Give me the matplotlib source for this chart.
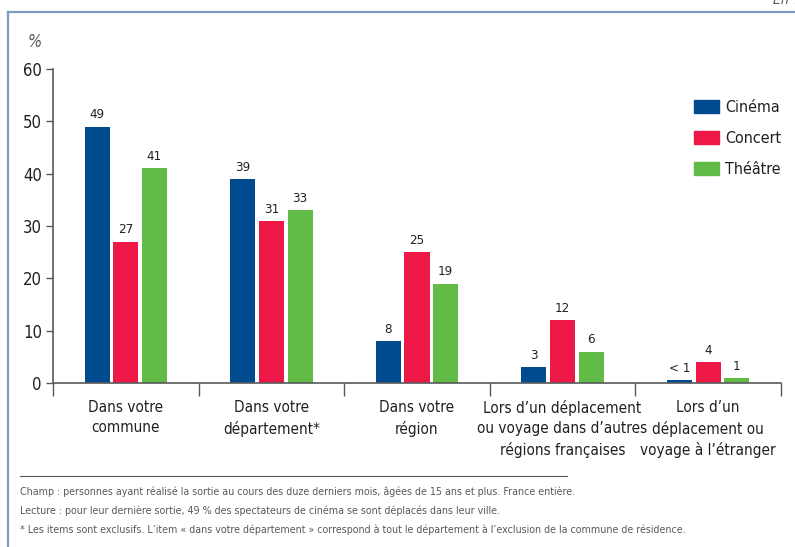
import numpy as np
import matplotlib
matplotlib.use('Agg')
import matplotlib.pyplot as plt
from matplotlib.lines import Line2D
from matplotlib.patches import Patch

plt.rcParams['font.family'] = ['DejaVu Sans']
plt.rcParams['font.stretch'] = 'condensed'

# Data
categories = ['Dans votre\ncommune', 'Dans votre\ndépartement*', 'Dans votre\nrégion',
              'Lors d\u2019un déplacement\nou voyage dans d\u2019autres\nrégions françaises',
              'Lors d\u2019un\ndéplacement ou\nvoyage à l\u2019étranger']
series = ['Cinéma', 'Concert', 'Théâtre']
cinema = [49, 39, 8, 3, 0.6]
concert = [27, 31, 25, 12, 4]
theatre = [41, 33, 19, 6, 1]
cinema_labels = ['49', '39', '8', '3', '< 1']
concert_labels = ['27', '31', '25', '12', '4']
theatre_labels = ['41', '33', '19', '6', '1']
yticks = [0, 10, 20, 30, 40, 50, 60]

colors = ['#004a8f', '#ee1846', '#62bb46']
dark = '#231f20'
grey = '#58595b'

W, H = 795, 547
fig = plt.figure(figsize=(W / 100, H / 100), dpi=100)
ax = fig.add_axes([53 / W, 1 - 383 / H, (781 - 53) / W, (383 - 69) / H])

x = np.arange(len(categories))
width = 0.172
step = 0.197
for k, (vals, labs) in enumerate([(cinema, cinema_labels), (concert, concert_labels),
                                   (theatre, theatre_labels)]):
    pos = x + (k - 1) * step
    ax.bar(pos, vals, width=width, color=colors[k], zorder=2)
    for p, v, t in zip(pos, vals, labs):
        ax.text(p, v + 1.0, t, ha='center', va='bottom', fontsize=9.5, color=dark)

ax.set_xlim(-0.5, len(categories) - 0.5)
ax.set_ylim(0, 60)
ax.set_yticks(yticks)
ax.tick_params(axis='y', length=5, width=1, color=grey, labelsize=12,
               labelcolor=dark, pad=3)

# boundaries as major ticks, labels on minor ticks
ax.set_xticks(np.arange(len(categories) + 1) - 0.5)
ax.set_xticklabels([])
ax.tick_params(axis='x', which='major', length=9, width=1, color=grey, direction='out')
ax.set_xticks(x, minor=True)
ax.set_xticklabels(categories, minor=True, fontsize=11, color=dark, linespacing=1.45)
ax.tick_params(axis='x', which='minor', length=0, pad=12)

for s in ['top', 'right']:
    ax.spines[s].set_visible(False)
for s in ['left', 'bottom']:
    ax.spines[s].set_color(grey)
    ax.spines[s].set_linewidth(1.2)

fig.text(35 / W, 1 - 42 / H, '%', fontsize=12, color=grey, ha='center', va='center',
         style='italic')
fig.text(773 / W, 1 - 4 / H, 'En %', fontsize=10, color=grey, ha='left', va='baseline',
         style='italic')

handles = [Patch(color=c) for c in colors]
fig.legend(handles, series, loc='upper left', bbox_to_anchor=(686 / W, 1 - 92 / H),
           frameon=False, fontsize=11.5, borderpad=0, handlelength=1.55,
           handleheight=0.85, handletextpad=0.4, labelspacing=1.0, labelcolor=dark)

# frame
fig.add_artist(Line2D([8 / W, 1], [1 - 12 / H, 1 - 12 / H], color='#7d9dc4', lw=1.6))
fig.add_artist(Line2D([8 / W, 8 / W], [1 - 12 / H, 0], color='#7d9dc4', lw=1.6))
fig.add_artist(Line2D([20 / W, 567 / W], [1 - 476 / H, 1 - 476 / H], color=grey, lw=0.8))

notes = ['Champ : personnes ayant réalisé la sortie au cours des duze derniers mois, âgées de 15 ans et plus. France entière.',
         'Lecture : pour leur dernière sortie, 49 % des spectateurs de cinéma se sont déplacés dans leur ville.',
         '* Les items sont exclusifs. L\u2019item « dans votre département » correspond à tout le département à l\u2019exclusion de la commune de résidence.']
for i, n in enumerate(notes):
    fig.text(20 / W, 1 - (492 + 19 * i) / H, n, fontsize=7.7, color=grey, ha='left', va='center')

fig.savefig('out.png', dpi=100)
